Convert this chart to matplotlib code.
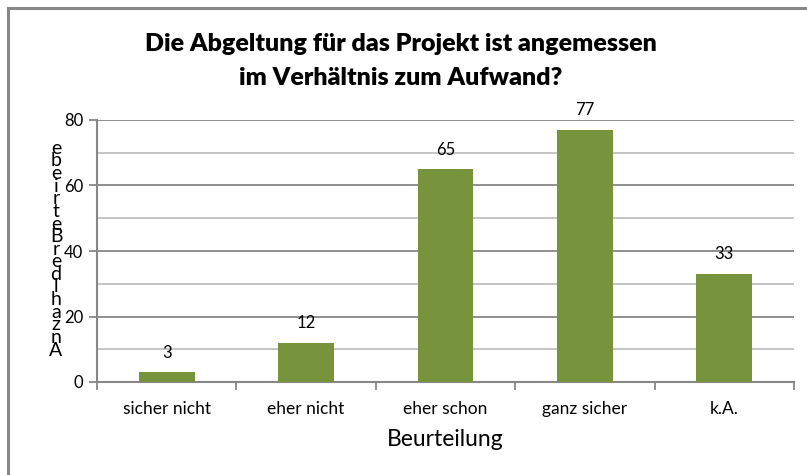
import matplotlib
matplotlib.use("Agg")
import matplotlib.pyplot as plt
from matplotlib.lines import Line2D
import numpy as np

categories = ["sicher nicht", "eher nicht", "eher schon", "ganz sicher", "k.A."]
values = [3, 12, 65, 77, 33]
yticks = [0, 20, 40, 60, 80]
title = "Die Abgeltung für das Projekt ist angemessen\nim Verhältnis zum Aufwand?"
xlabel = "Beurteilung"
ylabel = "Anzahl der Betriebe".replace(" ", "")

FONT = ["Lato", "DejaVu Sans"]
plt.rcParams["font.family"] = FONT

W, H = 807, 475
fig = plt.figure(figsize=(W / 100, H / 100), dpi=100)
fig.patch.set_facecolor("white")

def fx(px):
    return px / W

def fy(py):
    return 1 - py / H

ax_l, ax_r, ax_t, ax_b = 97, 794, 120, 382
ax = fig.add_axes([fx(ax_l), fy(ax_b), fx(ax_r) - fx(ax_l), fy(ax_t) - fy(ax_b)])

x = np.arange(len(categories))
bars = ax.bar(x, values, width=0.4, color="#77933C", zorder=3)
ax.set_xlim(-0.5, len(categories) - 0.5)
ax.set_ylim(0, 80)

# gridlines
for v in range(10, 81, 10):
    col = "#878787" if v % 20 == 0 else "#BFBFBF"
    ax.axhline(v, color=col, lw=1.3, zorder=1)

for s in ["top", "right"]:
    ax.spines[s].set_visible(False)
for s in ["left", "bottom"]:
    ax.spines[s].set_color("#878787")
    ax.spines[s].set_linewidth(1.5)

ax.set_yticks(yticks)
ax.set_yticklabels([str(v) for v in yticks], fontsize=12)
ax.tick_params(axis="y", length=6, color="#878787", width=1.3, pad=4)

ax.set_xticks(x)
ax.set_xticklabels(categories, fontsize=12.5)
ax.tick_params(axis="x", length=0, pad=14)
ax.set_xticks(np.arange(-0.5, len(categories), 1.0), minor=True)
ax.tick_params(axis="x", which="minor", length=6, color="#878787", width=1.3)

for xi, v in zip(x, values):
    ax.annotate(str(v), (xi, v), xytext=(0, 14), textcoords="offset points",
                ha="center", va="center", fontsize=12)

ax.set_xlabel(xlabel, fontsize=16.5, labelpad=8)

fig.text(fx(401), fy(61), title, ha="center", va="center",
         fontsize=18, fontweight="heavy", linespacing=1.62)

# stacked y-label characters (bottom to top)
y0, step = 350, 12.6
for i, ch in enumerate(ylabel):
    fig.text(fx(56), fy(y0 - i * step), ch, ha="center", va="center", fontsize=14)

# outer frame
fig.add_artist(Line2D([fx(8), fx(8)], [fy(8), 0], color="#878787", lw=2.2))
fig.add_artist(Line2D([fx(8), 1], [fy(8), fy(8)], color="#878787", lw=2.2))

fig.savefig("out.png", dpi=100)
